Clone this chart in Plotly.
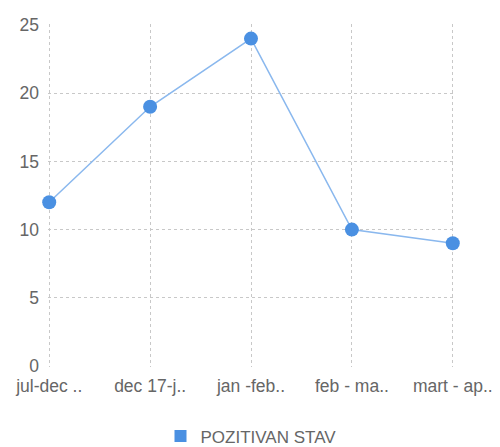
import plotly.graph_objects as go

categories = ["jul-dec ..", "dec 17-j..", "jan -feb..", "feb - ma..", "mart - ap.."]
values = [12, 19, 24, 10, 9]
series_name = "POZITIVAN STAV"
y_ticks = [0, 5, 10, 15, 20, 25]

xs = list(range(len(categories)))

fig = go.Figure()
fig.add_trace(go.Scatter(
    x=xs, y=values, mode="lines+markers",
    line=dict(color="#8ab8ee", width=1.5),
    marker=dict(color="#4a90e2", size=14),
    showlegend=False, name=series_name, cliponaxis=False,
))
fig.add_trace(go.Scatter(
    x=[None], y=[None], mode="markers",
    marker=dict(color="#4a90e2", size=16, symbol="square"),
    name=series_name, showlegend=True,
))

grid_style = dict(showgrid=True, gridcolor="#c8c8c8", griddash="3px,3px", gridwidth=1,
                  zeroline=False, showline=False, ticks="")

fig.update_layout(
    width=500, height=447,
    margin=dict(l=40, r=54, t=16, b=88, autoexpand=False),
    paper_bgcolor="white", plot_bgcolor="white",
    font=dict(family="Liberation Sans, Arial, sans-serif", color="#666666"),
    legend=dict(orientation="h", x=0.5, xanchor="center", y=-0.15, yanchor="top",
                font=dict(size=17, color="#666666"), itemsizing="constant", itemwidth=30),
    xaxis=dict(
        range=[-0.012, 4.012], tickvals=xs, ticktext=categories,
        tickfont=dict(size=17.5, color="#666666"), ticklabelstandoff=6, **grid_style,
    ),
    yaxis=dict(
        range=[-0.07, 25.07], tickvals=y_ticks,
        tickfont=dict(size=17.5, color="#666666"), ticklabelstandoff=8, **grid_style,
    ),
)
fig.write_html("out.html")
